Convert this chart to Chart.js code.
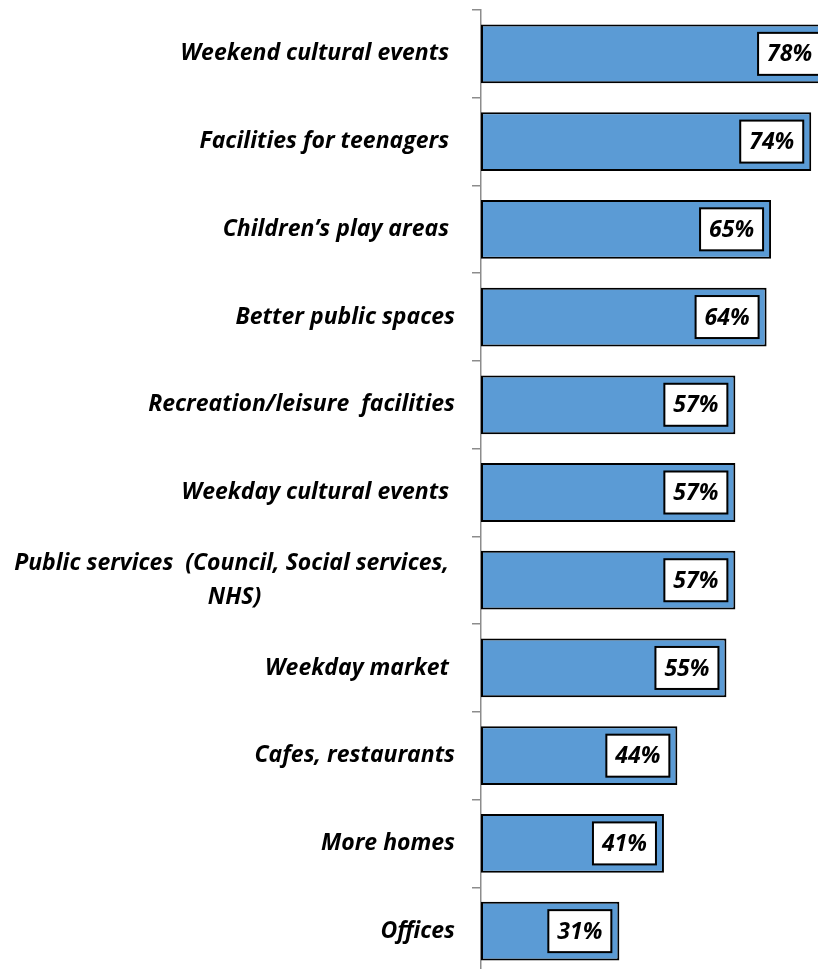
<!DOCTYPE html>
<html>
<head>
<meta charset="utf-8">
<script src="https://cdn.jsdelivr.net/npm/chart.js@4.4.0/dist/chart.umd.min.js"></script>
<style>
  html, body { margin: 0; padding: 0; overflow: hidden; background: #ffffff; width: 818px; height: 969px; }
  #wrap { position: absolute; left: 0; top: 0; width: 838px; height: 975px; }
</style>
</head>
<body>
<div id="wrap"><canvas id="c" width="838" height="975"></canvas></div>
<script>
const categories = [
  'Weekend cultural events ',
  'Facilities for teenagers ',
  'Children\u2019s play areas ',
  'Better public spaces',
  'Recreation/leisure  facilities',
  'Weekday cultural events ',
  ['Public services  (Council, Social services, ', 'NHS)'],
  'Weekday market ',
  'Cafes, restaurants',
  'More homes',
  'Offices'
];
const values = [78, 74, 65, 64, 57, 57, 57, 55, 44, 41, 31];
const valueLabels = ['78%', '74%', '65%', '64%', '57%', '57%', '57%', '55%', '44%', '41%', '31%'];

const LABEL_FONT = 'italic bold 23px "Open Sans"';
const VALUE_FONT = 'italic bold 23px "Open Sans"';

const categoryLabelPlugin = {
  id: 'categoryLabels',
  afterDraw(chart) {
    const ctx = chart.ctx;
    const yScale = chart.scales.y;
    const rightX = 455;
    ctx.save();
    ctx.font = LABEL_FONT;
    ctx.fillStyle = '#000000';
    ctx.textBaseline = 'middle';
    categories.forEach((lab, i) => {
      const yc = yScale.getPixelForValue(i);
      if (Array.isArray(lab)) {
        const lh = 34;
        const widths = lab.map(l => ctx.measureText(l).width);
        const w = Math.max(...widths);
        const cx = rightX - w / 2;
        ctx.textAlign = 'center';
        lab.forEach((l, j) => {
          const yy = yc + (j - (lab.length - 1) / 2) * lh;
          ctx.fillText(l, cx, yy);
        });
      } else {
        ctx.textAlign = 'right';
        ctx.fillText(lab, rightX, yc);
      }
    });
    ctx.restore();
  }
};

const valueBoxPlugin = {
  id: 'valueBoxes',
  afterDatasetsDraw(chart) {
    const ctx = chart.ctx;
    const meta = chart.getDatasetMeta(0);
    ctx.save();
    meta.data.forEach((el, i) => {
      const bw = 63, bh = 42;
      const right = el.x - 8;
      const left = right - bw;
      const top = el.y - bh / 2;
      ctx.fillStyle = '#ffffff';
      ctx.fillRect(left, top, bw, bh);
      ctx.lineWidth = 2;
      ctx.strokeStyle = '#000000';
      ctx.strokeRect(left, top, bw, bh);
      ctx.fillStyle = '#000000';
      ctx.font = VALUE_FONT;
      ctx.textAlign = 'center';
      ctx.textBaseline = 'middle';
      ctx.fillText(valueLabels[i], left + bw / 2, el.y + 1);
    });
    ctx.restore();
  }
};

new Chart(document.getElementById('c'), {
  type: 'bar',
  data: {
    labels: categories,
    datasets: [{
      data: values,
      backgroundColor: '#5B9BD5',
      borderColor: '#000000',
      borderWidth: 2,
      borderSkipped: false,
      barPercentage: 0.67,
      categoryPercentage: 1.0
    }]
  },
  options: {
    indexAxis: 'y',
    responsive: false,
    animation: false,
    events: [],
    layout: { padding: { left: 0, right: 0, top: 10, bottom: 0 } },
    plugins: { legend: { display: false }, tooltip: { enabled: false } },
    scales: {
      x: { display: false, min: 0, max: 80 },
      y: {
        offset: true,
        grid: { display: true, drawOnChartArea: false, drawTicks: true, tickLength: 9, color: '#8c8c8c', lineWidth: 1.5, offset: true },
        border: { display: true, color: '#8c8c8c', width: 1.5 },
        ticks: { display: false },
        afterFit(scale) { scale.width = 481; }
      }
    }
  },
  plugins: [categoryLabelPlugin, valueBoxPlugin]
});
</script>
</body>
</html>
